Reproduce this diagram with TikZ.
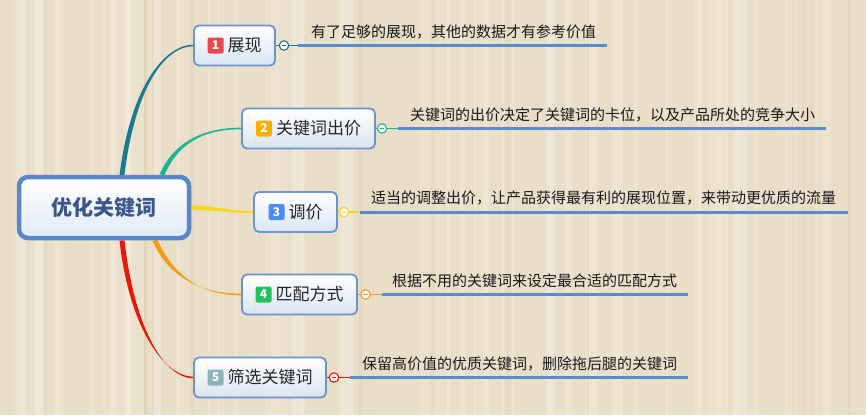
\documentclass[tikz,border=0pt]{standalone}
\usepackage{fontspec}
\setmainfont{Noto Sans CJK SC}
\usetikzlibrary{calc}
\pgfdeclarelayer{bglayer}
\pgfsetlayers{bglayer,main}
\definecolor{bgbase}{HTML}{E9DEC8}
\definecolor{bgdark}{HTML}{D8C8AA}
\definecolor{cA}{HTML}{1B7A8E}
\definecolor{cB}{HTML}{1AB394}
\definecolor{cC}{HTML}{F8D81C}
\definecolor{cD}{HTML}{F39C12}
\definecolor{cE}{HTML}{E8170C}
\definecolor{bline}{HTML}{5B8BCF}
\definecolor{boxb}{HTML}{6B93CF}
\definecolor{boxbot}{HTML}{D9E5F4}
\definecolor{cenb}{HTML}{5A87C8}
\definecolor{centxt}{HTML}{3B5689}
\definecolor{gA}{HTML}{E5484D}
\definecolor{gB}{HTML}{FBAD00}
\definecolor{gC}{HTML}{4C8CF5}
\definecolor{gD}{HTML}{1FC25C}
\definecolor{gE}{HTML}{8DB3BA}
\newcommand\taperline[7]{%
  \fill[#1] ($#2+#6$) .. controls ($#3+#6$) and ($#4+#7$) .. ($#5+#7$)
    -- ($#5-#7$) .. controls ($#4-#7$) and ($#3-#6$) .. ($#2-#6$) -- cycle;}
\tikzset{
  branchbox/.style={draw=boxb, line width=1.8pt, rounded corners=5pt,
    top color=white, bottom color=boxbot, minimum height=40pt, inner sep=0pt},
  centralbox/.style={draw=cenb, line width=4.5pt, rounded corners=9pt,
    top color=white, bottom color=boxbot!80, minimum width=170pt,
    minimum height=61pt, inner sep=0pt, text=centxt,
    font=\fontsize{21}{24}\selectfont\bfseries},
  badgebox/.style={rounded corners=2pt, minimum size=16pt, inner sep=0pt,
    text=white, font=\fontsize{12}{12}\selectfont\bfseries, anchor=east},
  lbl/.style={font=\fontsize{17}{19}\selectfont, text=black!85, inner sep=0pt},
  desc/.style={font=\fontsize{15}{17}\selectfont, anchor=west, inner sep=0pt, text=black!90},
  blueln/.style={draw=bline, line width=3pt},
  knob/.style={circle, fill=white!95!gray, line width=1.1pt, minimum size=9.5pt, inner sep=0pt},
}
\begin{document}
\begin{tikzpicture}[x=1pt,y=-1pt]
\useasboundingbox (0,0) rectangle (866,415);
\begin{pgfonlayer}{bglayer}
\fill[bgbase] (0,0) rectangle (866,415);
\pgfmathsetseed{17}
\foreach \i in {1,...,70}{
  \pgfmathsetmacro\xx{rnd*866}
  \pgfmathsetmacro\ww{1+rnd*9}
  \pgfmathsetmacro\op{0.06+rnd*0.18}
  \fill[white,opacity=\op] (\xx,0) rectangle ++(\ww,415);
}
\foreach \i in {1,...,40}{
  \pgfmathsetmacro\xx{rnd*866}
  \pgfmathsetmacro\ww{0.5+rnd*2.5}
  \pgfmathsetmacro\op{0.08+rnd*0.2}
  \fill[bgdark,opacity=\op] (\xx,0) rectangle ++(\ww,415);
}
\end{pgfonlayer}

% central node
\node[centralbox] (c) at (104,207.5) {优化关键词};

% branch nodes
\node[branchbox, minimum width=81pt]  (n1) at (234.5,45.5) {};
\node[branchbox, minimum width=133pt] (n2) at (308.5,128.5) {};
\node[branchbox, minimum width=83pt]  (n3) at (295.5,212) {};
\node[branchbox, minimum width=115pt] (n4) at (299.5,294.5) {};
\node[branchbox, minimum width=132pt] (n5) at (260,377.5) {};

\node[lbl] (t1) at ($(n1.center)+(10,0)$) {展现};
\node[lbl] (t2) at ($(n2.center)+(10,0)$) {关键词出价};
\node[lbl] (t3) at ($(n3.center)+(10,0)$) {调价};
\node[lbl] (t4) at ($(n4.center)+(10,0)$) {匹配方式};
\node[lbl] (t5) at ($(n5.center)+(10,0)$) {筛选关键词};

\node[badgebox, fill=gA] (b1) at ($(t1.west)+(-3.5,0)$) {1};
\node[badgebox, fill=gB] (b2) at ($(t2.west)+(-3.5,0)$) {2};
\node[badgebox, fill=gC] (b3) at ($(t3.west)+(-3.5,0)$) {3};
\node[badgebox, fill=gD] (b4) at ($(t4.west)+(-3.5,0)$) {4};
\node[badgebox, fill=gE] (b5) at ($(t5.west)+(-3.5,0)$) {5};

% line coordinates
\coordinate (ls1) at (298,45.5);  \coordinate (le1) at (607,45.5);
\coordinate (ls2) at (398,128.5); \coordinate (le2) at (826,128.5);
\coordinate (ls3) at (360,212);   \coordinate (le3) at (848,212);
\coordinate (ls4) at (382,294.5); \coordinate (le4) at (688,294.5);
\coordinate (ls5) at (350,377.5); \coordinate (le5) at (688,377.5);

\coordinate (s1) at ($(c.north)+(18,0)$);
\coordinate (s2) at ($(c.north)+(58,0)$);
\coordinate (s4) at ($(c.south)+(51,0)$);
\coordinate (s5) at ($(c.south)+(18,0)$);

\begin{pgfonlayer}{bglayer}
\taperline{cA}{(s1)}{(134,80)}{(168,45.5)}{(n1.west)}{(2.4,0)}{(0,0.8)}
\taperline{cB}{(s2)}{(175,145)}{(200,128.5)}{(n2.west)}{(2.3,0.6)}{(0,0.8)}
\taperline{cC}{(c.east)}{(215,208)}{(230,212)}{(n3.west)}{(0,2.2)}{(0,1)}
\taperline{cD}{(s4)}{(170,275)}{(200,294.5)}{(n4.west)}{(2.3,-0.9)}{(0,0.8)}
\taperline{cE}{(s5)}{(132,330)}{(165,377.5)}{(n5.west)}{(2.5,0)}{(0,0.8)}
\end{pgfonlayer}

% leaders, knobs, underlines
\foreach \i/\col/\kx in {1/cA/284,2/cB/382,3/cC/344,4/cD/365.5,5/cE/334}{
  \draw[\col, line width=1.1pt] (n\i.east) -- (ls\i);
  \draw[blueln] (ls\i) -- (le\i);
  \node[knob, draw=\col] (k\i) at (\kx, 0 |- ls\i) {};
  \draw[\col, line width=1pt] ($(k\i.center)+(-2.3,0)$) -- ($(k\i.center)+(2.3,0)$);
}

% descriptions
\node[desc] (d1) at (311,31.5) {有了足够的展现，其他的数据才有参考价值};
\node[desc] (d2) at (410,114.5) {关键词的出价决定了关键词的卡位，以及产品所处的竞争大小};
\node[desc] (d3) at (371,197.5) {适当的调整出价，让产品获得最有利的展现位置，来带动更优质的流量};
\node[desc] (d4) at (392,280.5) {根据不用的关键词来设定最合适的匹配方式};
\node[desc] (d5) at (362,363.5) {保留高价值的优质关键词，删除拖后腿的关键词};
\end{tikzpicture}
\end{document}
